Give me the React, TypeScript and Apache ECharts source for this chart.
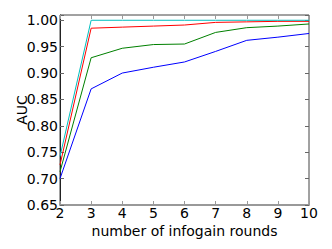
import React, { useEffect, useRef } from "react";
import * as echarts from "echarts";

const rounds = [2, 3, 4, 5, 6, 7, 8, 9, 10];
const blueSeries = [0.70, 0.87, 0.90, 0.911, 0.921, 0.941, 0.962, 0.968, 0.975];
const greenSeries = [0.713, 0.929, 0.947, 0.954, 0.955, 0.977, 0.986, 0.989, 0.993];
const redSeries = [0.726, 0.985, 0.987, 0.989, 0.991, 0.996, 0.997, 0.998, 0.998];
const cyanSeries = [0.742, 1.0, 1.0, 1.0, 1.0, 1.0, 1.0, 1.0, 1.0];
const seriesColors = ["#0000ff", "#008000", "#ff0000", "#00bfbf"];
const xTitle = "number of infogain rounds";
const yTitle = "AUC";

export default function App() {
  const ref = useRef<HTMLDivElement>(null);
  useEffect(() => {
    if (!ref.current) return;
    const chart = echarts.init(ref.current, null, { renderer: "svg" });
    const font = "DejaVu Sans";
    const fs = 14;
    const allSeries = [blueSeries, greenSeries, redSeries, cyanSeries];
    chart.setOption({
      animation: false,
      textStyle: { fontFamily: font },
      grid: {
        left: 60,
        right: 23,
        top: 15,
        bottom: 44,
        show: true,
        borderColor: "#444",
        borderWidth: 1,
        backgroundColor: "transparent",
      },
      xAxis: [
        {
          type: "value",
          min: 2,
          max: 10,
          interval: 1,
          position: "bottom",
          name: xTitle,
          nameLocation: "middle",
          nameGap: 19,
          nameMoveOverlap: false,
          nameTextStyle: { fontFamily: font, fontSize: fs, color: "#000", lineHeight: 14 },
          axisLine: { show: true, lineStyle: { color: "#999", width: 2 } },
          axisTick: { show: true, inside: true, length: 4, lineStyle: { color: "#999" } },
          axisLabel: { fontFamily: font, fontSize: fs, color: "#000", margin: 2, lineHeight: 12 },
          splitLine: { show: false },
        },
        {
          type: "value",
          min: 2,
          max: 10,
          interval: 1,
          position: "top",
          axisLine: { show: false },
          axisTick: { show: true, inside: true, length: 4, lineStyle: { color: "#999" } },
          axisLabel: { show: false },
          splitLine: { show: false },
        },
      ],
      yAxis: [
        {
          type: "value",
          min: 0.65,
          max: 1.01,
          interval: 0.05,
          position: "left",
          name: yTitle,
          nameLocation: "middle",
          nameGap: 32,
          nameRotate: 90,
          nameMoveOverlap: false,
          nameTextStyle: { fontFamily: font, fontSize: fs, color: "#000", lineHeight: 12 },
          axisLine: { show: true, lineStyle: { color: "#222", width: 1 } },
          axisTick: { show: true, inside: true, length: 4, lineStyle: { color: "#666" } },
          axisLabel: {
            fontFamily: font,
            fontSize: fs,
            color: "#000",
            margin: 2,
            lineHeight: 12,
            formatter: (v: number) =>
              Math.abs(v * 20 - Math.round(v * 20)) < 1e-6 ? v.toFixed(2) : "",
          },
          splitLine: { show: false },
        },
        {
          type: "value",
          min: 0.65,
          max: 1.01,
          interval: 0.05,
          position: "right",
          axisLine: { show: false },
          axisTick: { show: true, inside: true, length: 4, lineStyle: { color: "#666" } },
          axisLabel: { show: false },
          splitLine: { show: false },
        },
      ],
      series: allSeries.map((s, i) => ({
        type: "line",
        data: rounds.map((r, j) => [r, s[j]]),
        showSymbol: false,
        symbol: "none",
        lineStyle: { color: seriesColors[i], width: 1 },
        itemStyle: { color: seriesColors[i] },
        z: 3 + i,
      })),
    });
    return () => chart.dispose();
  }, []);
  return (
    <div
      ref={ref}
      style={{ position: "fixed", left: 0, top: 0, width: 332, height: 249, background: "#fff" }}
    />
  );
}
